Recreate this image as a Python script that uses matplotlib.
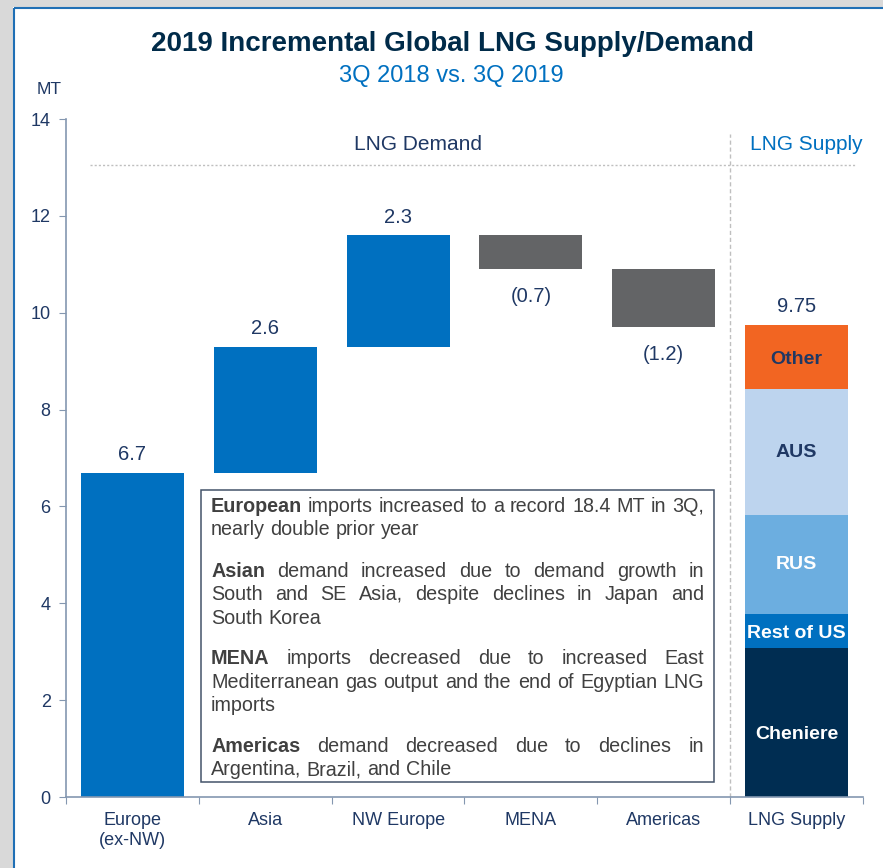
import matplotlib
matplotlib.use("Agg")
import matplotlib.pyplot as plt
from matplotlib.patches import Rectangle
from matplotlib.lines import Line2D
import matplotlib.transforms as mtransforms

plt.rcParams['font.family'] = ['Liberation Sans', 'DejaVu Sans']

# ---------------- data ----------------
demand_categories = ["Europe\n(ex-NW)", "Asia", "NW Europe", "MENA", "Americas"]
demand_values = [6.7, 2.6, 2.3, -0.7, -1.2]
demand_labels = ["6.7", "2.6", "2.3", "(0.7)", "(1.2)"]

supply_category = "LNG Supply"
supply_segments = ["Cheniere", "Rest of US", "RUS", "AUS", "Other"]
supply_values = [3.08, 0.70, 2.04, 2.60, 1.33]
supply_total_label = "9.75"

y_ticks = [0, 2, 4, 6, 8, 10, 12, 14]

title = "2019 Incremental Global LNG Supply/Demand"
subtitle = "3Q 2018 vs. 3Q 2019"
unit_label = "MT"
demand_header = "LNG Demand"
supply_header = "LNG Supply"

# commentary box: paragraphs of lines; each line = list of (word, bold); flag = justify
box_lines = [
    ([("European", True)] + [(w, False) for w in "imports increased to a record 18.4 MT in 3Q,".split()], True),
    ([(w, False) for w in "nearly double prior year".split()], False),
    ([("Asian", True)] + [(w, False) for w in "demand increased due to demand growth in".split()], True),
    ([(w, False) for w in "South and SE Asia, despite declines in Japan and".split()], True),
    ([(w, False) for w in "South Korea".split()], False),
    ([("MENA", True)] + [(w, False) for w in "imports decreased due to increased East".split()], True),
    ([(w, False) for w in "Mediterranean gas output and the end of Egyptian LNG".split()], True),
    ([(w, False) for w in "imports".split()], False),
    ([("Americas", True)] + [(w, False) for w in "demand decreased due to declines in".split()], True),
    ([(w, False) for w in "Argentina, Brazil, and Chile".split()], False),
]

# ---------------- style ----------------
W, H = 883, 868
BLUE = "#0070C0"
GREY = "#636466"
NAVY = "#002B49"
TXT = "#1F3864"
seg_colors = ["#002D52", "#0070C0", "#6CAEE0", "#BDD4EE", "#F26522"]
seg_text_colors = ["white", "white", "white", "#1F3864", "#1F3864"]
seg_label_offsets = [-12, -3, 0, 0, -2]   # label nudges in pixels
AXIS_C = "#8497B0"

fig = plt.figure(figsize=(W / 100, H / 100), dpi=100)
fig.patch.set_facecolor("white")

# frame: grey strips and blue border
fig.patches.append(Rectangle((0, 0), 13 / W, 1, transform=fig.transFigure,
                             facecolor="#D9D9D9", edgecolor="none", zorder=0))
fig.patches.append(Rectangle((0, 1 - 7 / H), 1, 7 / H, transform=fig.transFigure,
                             facecolor="#D9D9D9", edgecolor="none", zorder=0))
fig.lines.append(Line2D([13.5 / W, 13.5 / W], [0, 1 - 7.5 / H], transform=fig.transFigure,
                        color="#1F6FB5", lw=1.5, solid_capstyle="butt"))
fig.lines.append(Line2D([13.5 / W, 1.01], [1 - 7.5 / H, 1 - 7.5 / H], transform=fig.transFigure,
                        color="#1F6FB5", lw=1.5, solid_capstyle="butt"))

x0, x1 = 66, 863
y_top, y_bot = 119, 797
ax = fig.add_axes([x0 / W, (H - y_bot) / H, (x1 - x0) / W, (y_bot - y_top) / H])
ax.set_xlim(0, 6)
ax.set_ylim(0, 14)
ax.patch.set_alpha(0)

for s in ["top", "right"]:
    ax.spines[s].set_visible(False)
for s in ["left", "bottom"]:
    ax.spines[s].set_color(AXIS_C)
    ax.spines[s].set_linewidth(1.2)

ax.set_yticks(y_ticks)
ax.set_yticklabels([str(t) for t in y_ticks])
ax.tick_params(axis="y", direction="out", length=5, color=AXIS_C, labelsize=13,
               labelcolor=TXT, pad=6)
ax.set_xticks(range(7))
ax.set_xticklabels([""] * 7)
ax.tick_params(axis="x", which="major", direction="out", length=5, color=AXIS_C)
centers = [i + 0.5 for i in range(6)]
ax.set_xticks(centers, minor=True)
ax.set_xticklabels(demand_categories + [supply_category], minor=True)
ax.tick_params(axis="x", which="minor", length=0, labelsize=13, labelcolor=TXT, pad=11)

bw = 0.775
# waterfall
cum = 0.0
for i, (v, lab) in enumerate(zip(demand_values, demand_labels)):
    if v >= 0:
        bottom, height, col = cum, v, BLUE
    else:
        bottom, height, col = cum + v, -v, GREY
    ax.bar(centers[i], height, bottom=bottom, width=bw, color=col, zorder=2)
    if v >= 0:
        ax.annotate(lab, (centers[i], cum + v), xytext=(0, 6), textcoords="offset points",
                    ha="center", va="bottom", fontsize=14.5, color=TXT)
    else:
        ax.annotate(lab, (centers[i], cum + v), xytext=(0, -13), textcoords="offset points",
                    ha="center", va="top", fontsize=14.5, color=TXT)
    cum += v

# supply stack
sb = 0.0
for name, v, c, tc, off in zip(supply_segments, supply_values, seg_colors,
                               seg_text_colors, seg_label_offsets):
    ax.bar(centers[5], v, bottom=sb, width=bw, color=c, zorder=2)
    ax.annotate(name, (centers[5], sb + v / 2), xytext=(0, off * 0.72),
                textcoords="offset points", ha="center", va="center", fontsize=14,
                fontweight="bold", color=tc, zorder=3)
    sb += v
ax.annotate(supply_total_label, (centers[5], sb), xytext=(0, 6), textcoords="offset points",
            ha="center", va="bottom", fontsize=14.5, color=TXT)

# dividers
ax.plot([0.18, 5.95], [13.05, 13.05], color="#BFBFBF", lw=1, ls=(0, (1.5, 1.5)),
        clip_on=False, zorder=1)
ax.plot([5.0, 5.0], [0, 13.68], color="#BFBFBF", lw=1, ls=(0, (3, 2)),
        clip_on=False, zorder=1)
ax.text(2.65, 13.47, demand_header, ha="center", va="center", fontsize=15, color=TXT)
ax.text(5.57, 13.47, supply_header, ha="center", va="center", fontsize=15, color=BLUE)

# titles
fig.text(452 / W, 1 - 44 / H, title, ha="center", va="center", fontsize=20,
         fontweight="bold", color=NAVY)
fig.text(451 / W, 1 - 76 / H, subtitle, ha="center", va="center", fontsize=17, color=BLUE)
fig.text(49 / W, 1 - 90 / H, unit_label, ha="center", va="center", fontsize=12.5, color=TXT)

# commentary box
box_l, box_r, box_t, box_b = 201, 714, 490, 782
fig.patches.append(Rectangle((box_l / W, 1 - box_b / H), (box_r - box_l) / W,
                             (box_b - box_t) / H, transform=fig.transFigure,
                             facecolor="white", edgecolor="#44546A", lw=1.1, zorder=5))

ident = mtransforms.IdentityTransform()
renderer = fig.canvas.get_renderer()
BOX_FS = 14.2
BOX_C = "#404040"
txt_l, txt_r = 211, 704
baselines = [512, 535, 577, 600, 624, 664, 688, 711, 752, 775]

probe = fig.text(0, 0, "x x", fontsize=BOX_FS, transform=ident)
w_xx = probe.get_window_extent(renderer).width
probe.set_text("xx")
space_w = w_xx - probe.get_window_extent(renderer).width
probe.remove()

for (words, justify), base in zip(box_lines, baselines):
    objs = []
    for w, b in words:
        t = fig.text(0, H - base, w, fontsize=BOX_FS, color=BOX_C,
                     fontweight="bold" if b else "normal", transform=ident,
                     ha="left", va="baseline", zorder=6)
        objs.append(t)
    widths = [t.get_window_extent(renderer).width for t in objs]
    if justify and len(objs) > 1:
        gap = (txt_r - txt_l - sum(widths)) / (len(objs) - 1)
    else:
        gap = space_w
    x = txt_l
    for t, wd in zip(objs, widths):
        t.set_position((x, H - base))
        x += wd + gap

fig.savefig("out.png", dpi=100)
